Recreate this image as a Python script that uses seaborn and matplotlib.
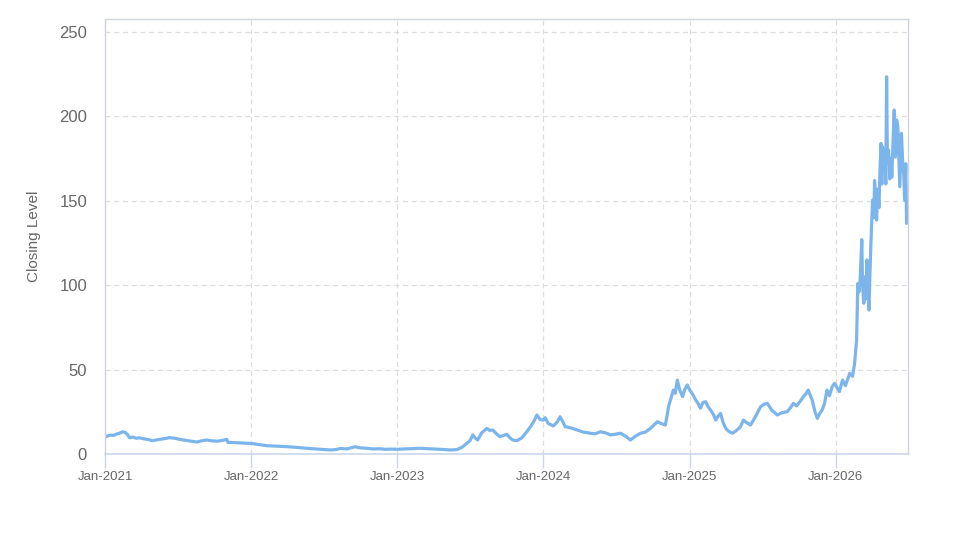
import matplotlib
matplotlib.use("Agg")
import matplotlib.pyplot as plt
import matplotlib.dates as mdates
import pandas as pd
import seaborn as sns

dates = [
    "2021-01-01", "2021-01-08", "2021-01-15", "2021-01-22", "2021-01-29", "2021-02-05", "2021-02-14",
    "2021-02-20", "2021-02-26", "2021-03-03", "2021-03-12", "2021-03-20", "2021-03-28", "2021-04-10",
    "2021-04-20", "2021-04-30", "2021-05-15", "2021-06-01", "2021-06-11", "2021-06-25", "2021-07-08",
    "2021-07-19", "2021-08-05", "2021-08-18", "2021-09-01", "2021-09-12", "2021-09-25", "2021-10-09",
    "2021-10-22", "2021-11-01", "2021-11-04", "2021-11-18", "2021-12-03", "2021-12-18",
    "2022-01-01", "2022-01-20", "2022-02-11", "2022-03-01", "2022-03-28", "2022-04-15", "2022-05-04",
    "2022-05-25", "2022-06-10", "2022-06-28", "2022-07-18", "2022-08-01", "2022-08-12", "2022-08-28",
    "2022-09-18", "2022-10-01", "2022-10-13", "2022-11-02", "2022-11-20", "2022-12-01", "2022-12-18",
    "2023-01-01", "2023-01-20", "2023-02-10", "2023-02-26", "2023-03-15", "2023-04-05", "2023-04-25",
    "2023-05-13", "2023-05-30", "2023-06-12", "2023-06-24", "2023-07-02", "2023-07-09", "2023-07-15",
    "2023-07-21", "2023-07-31", "2023-08-13", "2023-08-20", "2023-08-28", "2023-09-06", "2023-09-14",
    "2023-09-24", "2023-10-02", "2023-10-10", "2023-10-17", "2023-10-27", "2023-11-08", "2023-11-21",
    "2023-12-01", "2023-12-10", "2023-12-16", "2023-12-24",
    "2024-01-01", "2024-01-06", "2024-01-13", "2024-01-26", "2024-02-05", "2024-02-12", "2024-02-18",
    "2024-02-25", "2024-03-10", "2024-03-26", "2024-04-10", "2024-04-28", "2024-05-10", "2024-05-23",
    "2024-06-05", "2024-06-17", "2024-07-01", "2024-07-12", "2024-07-25", "2024-08-06", "2024-08-18",
    "2024-08-31", "2024-09-12", "2024-09-25", "2024-10-05", "2024-10-12", "2024-10-22", "2024-11-01",
    "2024-11-05", "2024-11-09", "2024-11-15", "2024-11-21", "2024-11-26", "2024-12-01", "2024-12-07",
    "2024-12-14", "2024-12-20", "2024-12-26",
    "2025-01-01", "2025-01-08", "2025-01-16", "2025-01-22", "2025-01-28", "2025-02-03", "2025-02-10",
    "2025-02-16", "2025-02-22", "2025-03-01", "2025-03-07", "2025-03-13", "2025-03-19", "2025-03-25",
    "2025-04-01", "2025-04-08", "2025-04-18", "2025-04-28", "2025-05-08", "2025-05-15", "2025-05-24",
    "2025-06-02", "2025-06-14", "2025-06-27", "2025-07-06", "2025-07-14", "2025-07-25", "2025-08-08",
    "2025-08-20", "2025-09-02", "2025-09-10", "2025-09-17", "2025-09-25", "2025-10-05", "2025-10-12",
    "2025-10-18", "2025-10-24", "2025-11-03", "2025-11-10", "2025-11-16", "2025-11-22", "2025-11-28",
    "2025-12-04", "2025-12-10", "2025-12-16", "2025-12-23", "2025-12-29",
    "2026-01-03", "2026-01-10", "2026-01-18", "2026-01-25", "2026-02-05", "2026-02-12", "2026-02-17",
    "2026-02-22", "2026-02-25", "2026-02-28", "2026-03-03", "2026-03-07", "2026-03-09", "2026-03-12",
    "2026-03-14", "2026-03-17", "2026-03-20", "2026-03-22", "2026-03-25", "2026-03-27", "2026-03-30",
    "2026-04-03", "2026-04-06", "2026-04-08", "2026-04-11", "2026-04-13", "2026-04-16", "2026-04-19",
    "2026-04-21", "2026-04-24", "2026-04-26", "2026-04-28", "2026-05-01", "2026-05-04", "2026-05-06",
    "2026-05-08", "2026-05-10", "2026-05-13", "2026-05-16", "2026-05-19", "2026-05-21", "2026-05-24",
    "2026-05-27", "2026-05-30", "2026-06-02", "2026-06-05", "2026-06-08", "2026-06-10", "2026-06-14",
    "2026-06-17", "2026-06-20", "2026-06-22", "2026-06-25", "2026-06-27",
]

closing = [
    10.0, 10.8, 11.2, 11.0, 11.8, 12.2, 13.2,
    12.8, 11.5, 9.6, 10.0, 9.3, 9.6, 8.9,
    8.5, 7.9, 8.6, 9.2, 9.7, 9.3, 8.6,
    8.2, 7.6, 7.1, 7.9, 8.3, 7.8, 7.6,
    8.1, 8.7, 6.9, 6.8, 6.6, 6.4,
    6.3, 5.6, 4.9, 4.7, 4.4, 4.1, 3.7,
    3.3, 3.0, 2.7, 2.4, 2.6, 3.3, 3.0,
    4.3, 3.6, 3.5, 3.0, 3.1, 2.8, 2.9,
    2.8, 3.0, 3.2, 3.4, 3.2, 3.0, 2.7,
    2.4, 2.6, 4.0, 6.3, 8.0, 11.3, 9.5,
    8.3, 12.5, 15.2, 14.0, 14.2, 12.0, 10.3,
    11.0, 11.7, 9.5, 8.3, 7.9, 9.5, 13.2,
    16.5, 20.0, 23.1, 20.5,
    20.1, 21.5, 18.2, 16.6, 19.0, 22.1, 19.5,
    16.2, 15.5, 14.2, 13.0, 12.3, 12.0, 13.2,
    12.5, 11.3, 11.8, 12.3, 10.5, 8.3, 10.5,
    12.3, 13.0, 15.2, 17.5, 19.1, 18.0, 17.2,
    22.0, 28.0, 33.0, 37.9, 36.0, 43.8, 38.0,
    34.0, 38.5, 40.9,
    37.9, 35.5, 32.0, 30.0, 27.1, 30.5, 31.0,
    28.0, 26.1, 23.5, 20.1, 22.5, 24.1, 19.0,
    15.2, 13.5, 12.3, 14.0, 16.2, 20.1, 18.5,
    17.2, 22.0, 28.0, 29.5, 30.0, 26.0, 23.1,
    24.5, 25.1, 27.5, 30.0, 28.5, 31.5, 34.0,
    35.5, 37.9, 32.0, 25.0, 21.1, 24.0, 26.1,
    30.0, 37.9, 34.5, 39.9, 41.9,
    39.9, 37.0, 43.8, 40.5, 47.8, 46.0, 53.7,
    67.5, 101.0, 96.0, 104.0, 127.0, 100.0, 89.3,
    105.0, 92.0, 115.0, 98.0, 85.3, 104.0, 126.0,
    150.5, 140.0, 162.0, 148.0, 138.6, 157.0, 146.0,
    165.0, 184.0, 160.0, 182.0, 170.0, 178.0, 160.0,
    223.5, 174.0, 180.0, 163.0, 175.0, 164.0, 185.0,
    203.8, 176.0, 198.0, 194.0, 172.0, 158.4, 190.0,
    174.0, 165.0, 150.5, 172.0, 136.7,
]

y_ticks = [0, 50, 100, 150, 200, 250]
x_ticks = ["2021-01-01", "2022-01-01", "2023-01-01", "2024-01-01", "2025-01-01", "2026-01-01"]

df = pd.DataFrame({"Date": pd.to_datetime(dates), "Closing Level": closing})

sns.set_theme(style="white")
plt.rcParams["font.family"] = ["Liberation Sans", "DejaVu Sans"]

fig, ax = plt.subplots(figsize=(9.73, 5.47), dpi=100)
fig.subplots_adjust(left=0.108, right=0.933, top=0.966, bottom=0.170)

sns.lineplot(data=df, x="Date", y="Closing Level", ax=ax, color="#7cb5ec", linewidth=2.3)

ax.set_xlim(pd.Timestamp("2021-01-01"), pd.Timestamp("2026-06-30"))
ax.set_ylim(0, 258)
ax.set_yticks(y_ticks)
ax.set_xticks(pd.to_datetime(x_ticks))
ax.xaxis.set_major_formatter(mdates.DateFormatter("%b-%Y"))

ax.grid(True, which="major", linestyle=(0, (4, 3)), color="#dddddd", linewidth=0.9)
ax.set_axisbelow(True)

for side in ["top", "right", "left"]:
    ax.spines[side].set_color("#d0d4dc")
    ax.spines[side].set_linewidth(1.0)
ax.spines["bottom"].set_color("#ccd6eb")
ax.spines["bottom"].set_linewidth(1.2)

ax.tick_params(axis="y", length=0, labelsize=12, labelcolor="#666666", pad=13)
ax.tick_params(axis="x", length=10, width=1, color="#ccd6eb", labelsize=9.5,
               labelcolor="#666666", pad=2, bottom=True)

ax.set_xlabel("")
ax.set_ylabel("Closing Level", fontsize=11, color="#666666", labelpad=13)

fig.savefig("out.png", dpi=100, facecolor="white")
